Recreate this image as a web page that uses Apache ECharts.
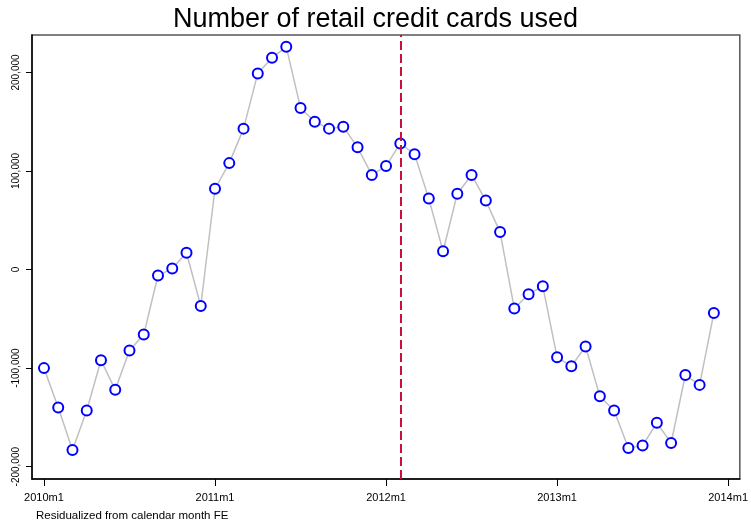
<!DOCTYPE html>
<html>
<head>
<meta charset="utf-8">
<script src="https://cdn.jsdelivr.net/npm/echarts@6/dist/echarts.min.js"></script>
<style>html,body{margin:0;padding:0;background:#fff}#c{width:751px;height:525px}</style>
</head>
<body>
<div id="c"></div>
<script>
// month index 0 = 2010m1
var months = [];
for (var i = 0; i < 48; i++) months.push(i);
var values = [-100000,-140000,-183000,-143000,-92000,-122000,-82000,-66000,-6000,1000,17000,-37000,
  82000,108000,143000,199000,215000,226000,164000,150000,143000,145000,124000,96000,
  105000,128000,117000,72000,18600,77000,96000,70000,38000,-39600,-25000,-17000,
  -89000,-98000,-78000,-128500,-143000,-181000,-178500,-155500,-176000,-107000,-117000,-44000];
var xTicks = [0,12,24,36,48];
var xTickLabels = ['2010m1','2011m1','2012m1','2013m1','2014m1'];
var yTicks = [-200000,-100000,0,100000,200000];
var eventMonth = 25; // 2012m2
var titleText = 'Number of retail credit cards used';
var noteText = 'Residualized from calendar month FE';

var FONT = 'Liberation Sans, Arial, sans-serif';
var data = months.map(function(m,i){return [m, values[i]];});
var chart = echarts.init(document.getElementById('c'), null, {renderer:'canvas'});
chart.setOption({
  animation:false,
  backgroundColor:'#fff',
  title:[{text:titleText,left:'center',top:6,padding:0,textStyle:{fontFamily:FONT,fontSize:27,fontWeight:'normal',color:'#000'}},
         {text:noteText,left:36,top:510,padding:0,textStyle:{fontFamily:FONT,fontSize:11.5,fontWeight:'normal',color:'#000'}}],
  grid:{left:32,right:9,top:35,bottom:46,show:true,borderColor:'#555',borderWidth:1.5,backgroundColor:'#fff'},
  xAxis:{type:'value',min:-0.84,max:48.82,
    axisLine:{show:true,onZero:false,lineStyle:{color:'#000',width:1.5}},
    axisTick:{show:true,length:7,customValues:xTicks,lineStyle:{color:'#000',width:1}},
    axisLabel:{customValues:xTicks,margin:13,fontFamily:FONT,fontSize:11,color:'#000',
      formatter:function(v){var k=xTicks.indexOf(v);return k>=0?xTickLabels[k]:'';}},
    splitLine:{show:false}},
  yAxis:{type:'value',min:-212500,max:238000,
    axisLine:{show:true,onZero:false,lineStyle:{color:'#000',width:1.5}},
    axisTick:{show:true,length:6,customValues:yTicks,lineStyle:{color:'#000',width:1}},
    axisLabel:{customValues:yTicks,rotate:90,margin:11,fontFamily:FONT,fontSize:10,color:'#000',
      formatter:function(v){return echarts.format.addCommas(v);}},
    splitLine:{show:false}},
  series:[{type:'line',data:data,symbol:'circle',symbolSize:10,showSymbol:true,
    lineStyle:{color:'#c0c0c0',width:1.5},
    itemStyle:{color:'#fff',borderColor:'#0000ff',borderWidth:2},
    markLine:{silent:true,symbol:['none','none'],label:{show:false},
      lineStyle:{color:'#c8103c',type:[9,4],width:2},
      data:[{xAxis:eventMonth}]},
    z:3}]
});
</script>
</body>
</html>
